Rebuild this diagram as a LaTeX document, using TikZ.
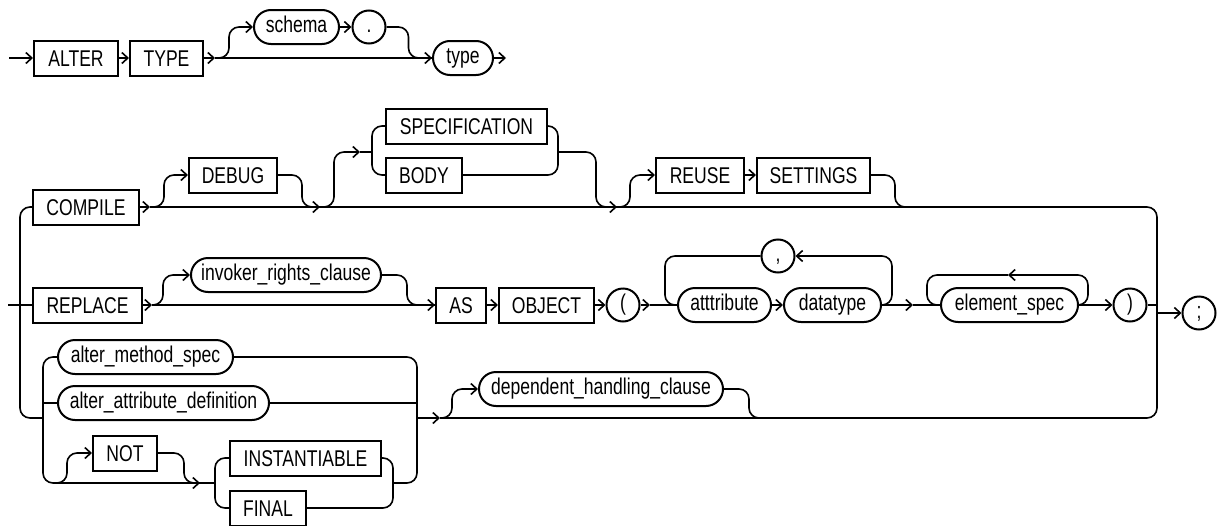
\documentclass[tikz,border=0pt]{standalone}
\usepackage{fontspec}
\setmainfont{Liberation Sans}[FakeStretch=0.77]
\usetikzlibrary{arrows.meta,shapes.misc}
\begin{document}
\begin{tikzpicture}[x=1pt,y=-1pt,
  line width=1.6pt,
  base/.style={draw, line width=2pt, font=\fontsize{22.8}{26}\selectfont, inner sep=0pt, anchor=west},
  kw/.style={base, rectangle, minimum height=35pt, text height=16.3pt, text depth=0.3pt},
  nt/.style={base, rounded rectangle, minimum height=34pt, text height=16.5pt, text depth=4.8pt},
  pc/.style={base, circle, minimum size=33pt, anchor=center, text height=16.5pt, text depth=4.8pt},
  ar/.style={-{Straight Barb[length=6pt,width=11pt]}},
  rc/.style={rounded corners=10pt}]
\useasboundingbox (0,0) rectangle (1218,525);

% ---------- nodes ----------
\node[kw, minimum width=84pt]  (alter)    at (33,58)  {ALTER};
\node[kw, minimum width=73pt]  (typek)    at (129,58) {TYPE};
\node[nt, minimum width=85pt]  (schema)   at (253,27) {schema};
\node[pc]                      (dot)      at (369,27) {.};
\node[nt, minimum width=60pt]  (typ)      at (432,58) {type};

\node[kw, minimum width=106pt] (compile)  at (32,207)  {COMPILE};
\node[kw, minimum width=88pt]  (debug)    at (188,175) {DEBUG};
\node[kw, minimum width=161pt] (spec)     at (385,126) {SPECIFICATION};
\node[kw, minimum width=76pt]  (body)     at (385,175) {BODY};
\node[kw, minimum width=88pt]  (reuse)    at (655,175) {REUSE};
\node[kw, minimum width=113pt] (settings) at (756,175) {SETTINGS};

\node[kw, minimum width=109pt] (replace)  at (32,305)  {REPLACE};
\node[nt, minimum width=190pt] (irc)      at (190,275) {invoker\_rights\_clause};
\node[kw, minimum width=50pt]  (as)       at (435,305) {AS};
\node[kw, minimum width=95pt]  (object)   at (498,305) {OBJECT};
\node[pc]                      (lp)       at (623,305) {(};
\node[nt, minimum width=93pt]  (attr)     at (677,305) {atttribute};
\node[pc]                      (comma)    at (778,256) {,};
\node[nt, minimum width=97pt]  (dt)       at (783,305) {datatype};
\node[nt, minimum width=137pt] (es)       at (940,305) {element\_spec};
\node[pc]                      (rp)       at (1130,305) {)};
\node[pc]                      (semi)     at (1199,313) {;};

\node[nt, minimum width=175pt] (ams)      at (57,357)  {alter\_method\_spec};
\node[nt, minimum width=211pt] (aad)      at (57,403)  {alter\_attribute\_definition};
\node[kw, minimum width=64pt]  (not)      at (92,453)  {NOT};
\node[kw, minimum width=151pt] (inst)     at (229,458) {INSTANTIABLE};
\node[kw, minimum width=76pt]  (final)    at (229,508) {FINAL};
\node[nt, minimum width=244pt] (dhc)      at (478,389) {dependent\_handling\_clause};

% ---------- row 1 ----------
\coordinate (s0) at (9,58);
\coordinate (e0) at (506,58);
\draw[ar] (s0) -- (alter.west);
\draw[ar] (alter.east) -- (typek.west);
\draw[ar] (typek.east) -- ++(11,0) coordinate (j1);
\draw[ar] (j1) -- (typ.west);
\draw[ar,rc] (j1) -- ++(14,0) |- (schema.west);
\draw[ar] (schema.east) -- (dot.west);
\draw[rc] (dot.east) -- ++(22,0) |- (typ.west);
\draw[ar] (typ.east) -- (e0);

% ---------- COMPILE row ----------
\coordinate (j3) at (320,207);
\coordinate (j4) at (360,152);
\coordinate (j5) at (617,207);
\coordinate (j6) at (440,418);
\draw[ar] (compile.east) -- ++(10,0) coordinate (j2);
\draw[ar,rc] (j2) -- ++(14,0) |- (debug.west);
\draw[ar] (j2) -- (j3);
\draw[rc] (debug.east) -- ++(24,0) |- (j3);
\draw[ar,rc] (j3) -- ++(14,0) |- (j4);
\draw (j4) -- ++(12,0);
\draw[rc] (spec.west) -| (372,175) -- (body.west);
\draw[rc] (spec.east) -| (558,175) -- (body.east);
\draw[rc] (558,152) -- (596,152) |- (j5);
\draw[ar] (j3) -- (j5);
\draw[ar,rc] (j5) -- ++(13,0) |- (reuse.west);
\draw[ar] (reuse.east) -- (settings.west);
\draw[rc] (settings.east) -- ++(24,0) |- (910,207);
\draw[rc] (j5) -- (1157,207) -- (1157,418) -- (j6);

% ---------- left bus ----------
\coordinate (stub) at (8,305);
\draw (stub) -- (replace.west);
\draw[rc] (compile.west) -| (20,418) -- (43,418);

% ---------- REPLACE row ----------
\coordinate (j7) at (152,305);
\coordinate (j8) at (650,305);
\coordinate (j9) at (913,305);
\coordinate (j10) at (1008,275);
\draw[ar] (replace.east) -- (j7);
\draw[ar,rc] (j7) -- ++(11,0) |- (irc.west);
\draw[rc] (irc.east) -- ++(25,0) |- (as.west);
\draw[ar] (j7) -- (as.west);
\draw[ar] (as.east) -- (object.west);
\draw[ar] (object.east) -- (lp.west);
\draw[ar] (lp.east) -- (j8);
\draw (j8) -- (attr.west);
\draw[ar] (attr.east) -- (dt.west);
\draw[ar,rc] (dt.east) -| (892,256) -- (comma.east);
\draw[rc] (comma.west) -| (665,305) -- (attr.west);
\draw[ar] (dt.east) -- (j9);
\draw (j9) -- (es.west);
\draw[ar,rc] (es.east) -| (1088,275) -- (j10);
\draw[rc] (j10) -| (927,305) -- (es.west);
\draw[ar] (es.east) -- (rp.west);
\draw (rp.east) -- (1157,305);
\draw[ar] (1157,313) -- (semi.west);

% ---------- lower group ----------
\coordinate (j11) at (200,483);
\draw[ar,rc] (ams.west) -| (43,483) -- (j11);
\draw (43,403) -- (aad.west);
\draw[ar,rc] (55,483) -- (67,483) |- (not.west);
\draw[rc] (not.east) -- ++(26,0) |- (j11);
\draw (j11) -- (215,483);
\draw[rc] (inst.west) -| (215,508) -- (final.west);
\draw[rc] (inst.east) -| (393,508) -- (final.east);
\draw[rc] (ams.east) -| (417,483) -- (393,483);
\draw (aad.east) -- (417,403);
\draw[ar] (417,418) -- (j6);
\draw[ar,rc] (j6) -- ++(12,0) |- (dhc.west);
\draw[rc] (dhc.east) -- ++(25,0) |- (765,418);
\end{tikzpicture}
\end{document}
